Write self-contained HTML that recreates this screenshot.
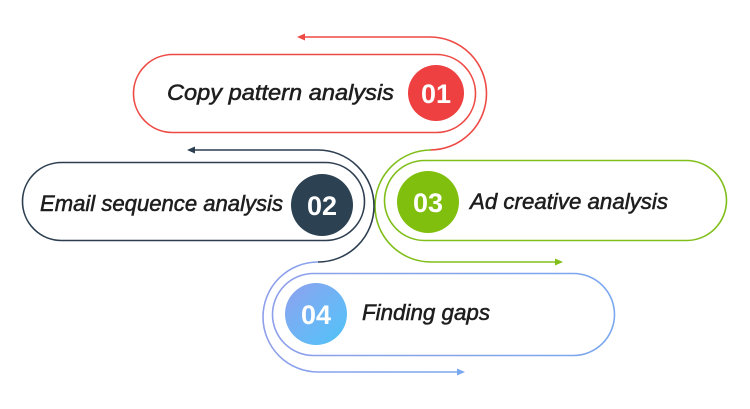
<!DOCTYPE html>
<html><head><meta charset="utf-8"><style>
html,body{margin:0;padding:0;background:#fff;}
svg{display:block;}
.t{font-family:"Liberation Sans",sans-serif;font-style:italic;font-size:22.5px;fill:#1e1e1e;stroke:#1e1e1e;stroke-width:0.55;}
.n{font-family:"Liberation Sans",sans-serif;font-weight:bold;font-size:27px;fill:#fff;text-anchor:middle;}
</style></head><body>
<svg width="750" height="409" viewBox="0 0 750 409" xmlns="http://www.w3.org/2000/svg">
<defs>
<linearGradient id="bg" x1="0" y1="0" x2="1" y2="1">
<stop offset="0" stop-color="#8fa0ee"/><stop offset="0.5" stop-color="#6fb4f5"/><stop offset="1" stop-color="#4fc3f7"/>
</linearGradient>
<linearGradient id="bl" x1="0" y1="0" x2="1" y2="0">
<stop offset="0" stop-color="#8e9fec"/><stop offset="1" stop-color="#7aa8ee"/>
</linearGradient>
</defs>
<!-- pill 1 red -->
<rect x="133.5" y="54.5" width="342" height="78" rx="39" fill="#fff" stroke="#ee4a45" stroke-width="1.6"/>
<path d="M430 150 A56.5 56.5 0 0 0 430 37 L302 37" fill="none" stroke="#ee4a45" stroke-width="1.6"/>
<polygon points="297,37 305,33.5 305,40.5" fill="#ee4a45"/>
<circle cx="436" cy="93" r="28" fill="#ee4040"/>
<text class="n" x="436" y="103">01</text>
<text class="t" x="167" y="100" textLength="227" lengthAdjust="spacingAndGlyphs">Copy pattern analysis</text>

<!-- pill 3 green -->
<rect x="384.5" y="160.5" width="342" height="80" rx="40" fill="#fff" stroke="#80bf1a" stroke-width="1.6"/>
<path d="M431 150 A56 56 0 0 0 431 262 L556 262" fill="none" stroke="#80bf1a" stroke-width="1.6"/>
<polygon points="563,262 555,258.5 555,265.5" fill="#80bf1a"/>
<circle cx="428" cy="202" r="31" fill="#80bf0e"/>
<text class="n" x="428" y="212">03</text>
<text class="t" x="470" y="209" textLength="198" lengthAdjust="spacingAndGlyphs">Ad creative analysis</text>

<!-- pill 2 dark -->
<rect x="22.5" y="162.5" width="342" height="78" rx="39" fill="#fff" stroke="#2c3e50" stroke-width="1.6"/>
<path d="M318 262 A56 56 0 0 0 318 150 L192 150" fill="none" stroke="#2c3e50" stroke-width="1.6"/>
<polygon points="187,150 195,146.5 195,153.5" fill="#2c3e50"/>
<circle cx="322" cy="205" r="31" fill="#2c4152"/>
<text class="n" x="322" y="215">02</text>
<text class="t" x="40" y="211" textLength="243" lengthAdjust="spacingAndGlyphs">Email sequence analysis</text>

<!-- pill 4 blue -->
<rect x="272.5" y="273.5" width="342" height="82" rx="41" fill="#fff" stroke="url(#bl)" stroke-width="1.6"/>
<path d="M318 262 A55 55 0 0 0 318 372 L458 372" fill="none" stroke="url(#bl)" stroke-width="1.6"/>
<polygon points="465,372 457,368.5 457,375.5" fill="#7aa8ee"/>
<circle cx="316" cy="314" r="31" fill="url(#bg)"/>
<text class="n" x="316" y="324">04</text>
<text class="t" x="362" y="320" textLength="128" lengthAdjust="spacingAndGlyphs">Finding gaps</text>
</svg>
</body></html>
